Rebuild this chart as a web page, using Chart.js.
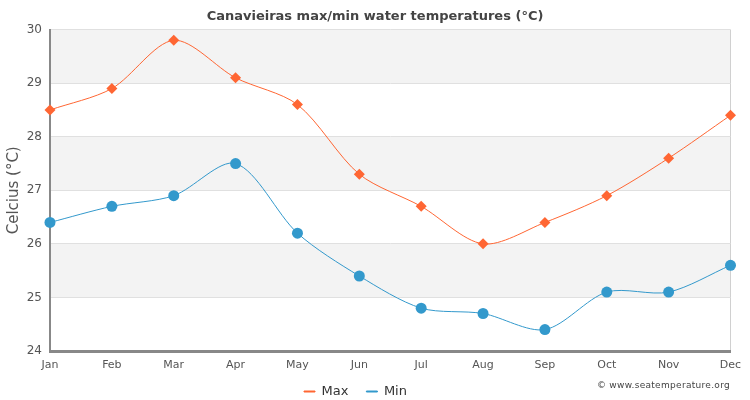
<!DOCTYPE html>
<html>
<head>
<meta charset="utf-8">
<title>Canavieiras water temperatures</title>
<script src="https://cdn.jsdelivr.net/npm/chart.js@4"></script>
<style>
  html, body { margin: 0; padding: 0; background: #fff; }
  #wrap { position: relative; width: 750px; height: 400px; overflow: hidden; }
  #credit {
    position: absolute; right: 20px; top: 380px;
    font: 9px "DejaVu Sans", sans-serif; letter-spacing: 0.3px; color: #444;
  }
</style>
</head>
<body>
<div id="wrap">
  <canvas id="chart" width="750" height="400"></canvas>
  <div id="credit">© www.seatemperature.org</div>
</div>
<script>
const months = ['Jan', 'Feb', 'Mar', 'Apr', 'May', 'Jun', 'Jul', 'Aug', 'Sep', 'Oct', 'Nov', 'Dec'];
const maxTemps = [28.5, 28.9, 29.8, 29.1, 28.6, 27.3, 26.7, 26.0, 26.4, 26.9, 27.6, 28.4];
const minTemps = [26.4, 26.7, 26.9, 27.5, 26.2, 25.4, 24.8, 24.7, 24.4, 25.1, 25.1, 25.6];
const shadedBands = [[25, 26], [27, 28], [29, 30]];

const font = '"DejaVu Sans", sans-serif';

// Alternate grey bands behind the grid
const bandPlugin = {
    id: 'bands',
    beforeDraw(chart) {
        const { ctx, chartArea, scales } = chart;
        ctx.save();
        ctx.fillStyle = '#f3f3f3';
        shadedBands.forEach(band => {
            const top = scales.y.getPixelForValue(band[1]);
            const bottom = scales.y.getPixelForValue(band[0]);
            ctx.fillRect(chartArea.left, top, chartArea.right - chartArea.left, bottom - top);
        });
        ctx.restore();
    }
};

// Title and legend are not centred on the plot in the original
const nudgePlugin = {
    id: 'nudge',
    afterLayout(chart) {
        chart.titleBlock.left += 7;
        chart.titleBlock.right += 7;
        chart.legend.left -= 12.5;
        chart.legend.right -= 12.5;
        chart.legend.top -= 8;
        chart.legend.bottom -= 8;
    }
};

new Chart(document.getElementById('chart'), {
    type: 'line',
    plugins: [bandPlugin, nudgePlugin],
    data: {
        labels: months,
        datasets: [
            {
                label: 'Max',
                data: maxTemps,
                borderColor: '#ff6633',
                backgroundColor: '#ff6633',
                borderWidth: 1,
                tension: 0.3,
                pointStyle: 'rectRot',
                pointRadius: 5.5,
                pointBackgroundColor: '#ff6633',
                pointBorderWidth: 0,
                clip: false
            },
            {
                label: 'Min',
                data: minTemps,
                borderColor: '#3399cc',
                backgroundColor: '#3399cc',
                borderWidth: 1,
                tension: 0.3,
                pointStyle: 'circle',
                pointRadius: 5.5,
                pointBackgroundColor: '#3399cc',
                pointBorderWidth: 0,
                clip: false
            }
        ]
    },
    options: {
        responsive: false,
        animation: false,
        layout: { padding: { left: 5.5, right: 19.5, top: 0, bottom: -16 } },
        plugins: {
            title: {
                display: true,
                text: 'Canavieiras max/min water temperatures (°C)',
                color: '#444',
                font: { family: font, size: 13, weight: 'bold' },
                padding: { top: 9, bottom: 5 }
            },
            legend: {
                position: 'bottom',
                labels: {
                    boxWidth: 11,
                    boxHeight: 1,
                    padding: 18,
                    color: '#333',
                    font: { family: font, size: 13 }
                }
            },
            tooltip: { enabled: false }
        },
        scales: {
            x: {
                afterFit(scale) { scale.height = 24; },
                grid: {
                    drawTicks: false,
                    color: ctx => ctx.index === months.length - 1 ? '#d0d0d0' : 'transparent'
                },
                border: { color: '#888', width: 3 },
                ticks: {
                    color: '#555',
                    padding: 8,
                    maxRotation: 0,
                    autoSkip: false,
                    font: { family: font, size: 11 }
                }
            },
            y: {
                min: 24,
                max: 30,
                afterFit(scale) { scale.width = 44.5; },
                grid: { drawTicks: false, color: '#e0e0e0' },
                border: { color: '#888', width: 2 },
                title: {
                    display: true,
                    text: 'Celcius (°C)',
                    color: '#555',
                    padding: 0,
                    font: { family: font, size: 15 }
                },
                ticks: {
                    stepSize: 1,
                    color: '#555',
                    padding: 8,
                    font: { family: font, size: 12 }
                }
            }
        }
    }
});
</script>
</body>
</html>
